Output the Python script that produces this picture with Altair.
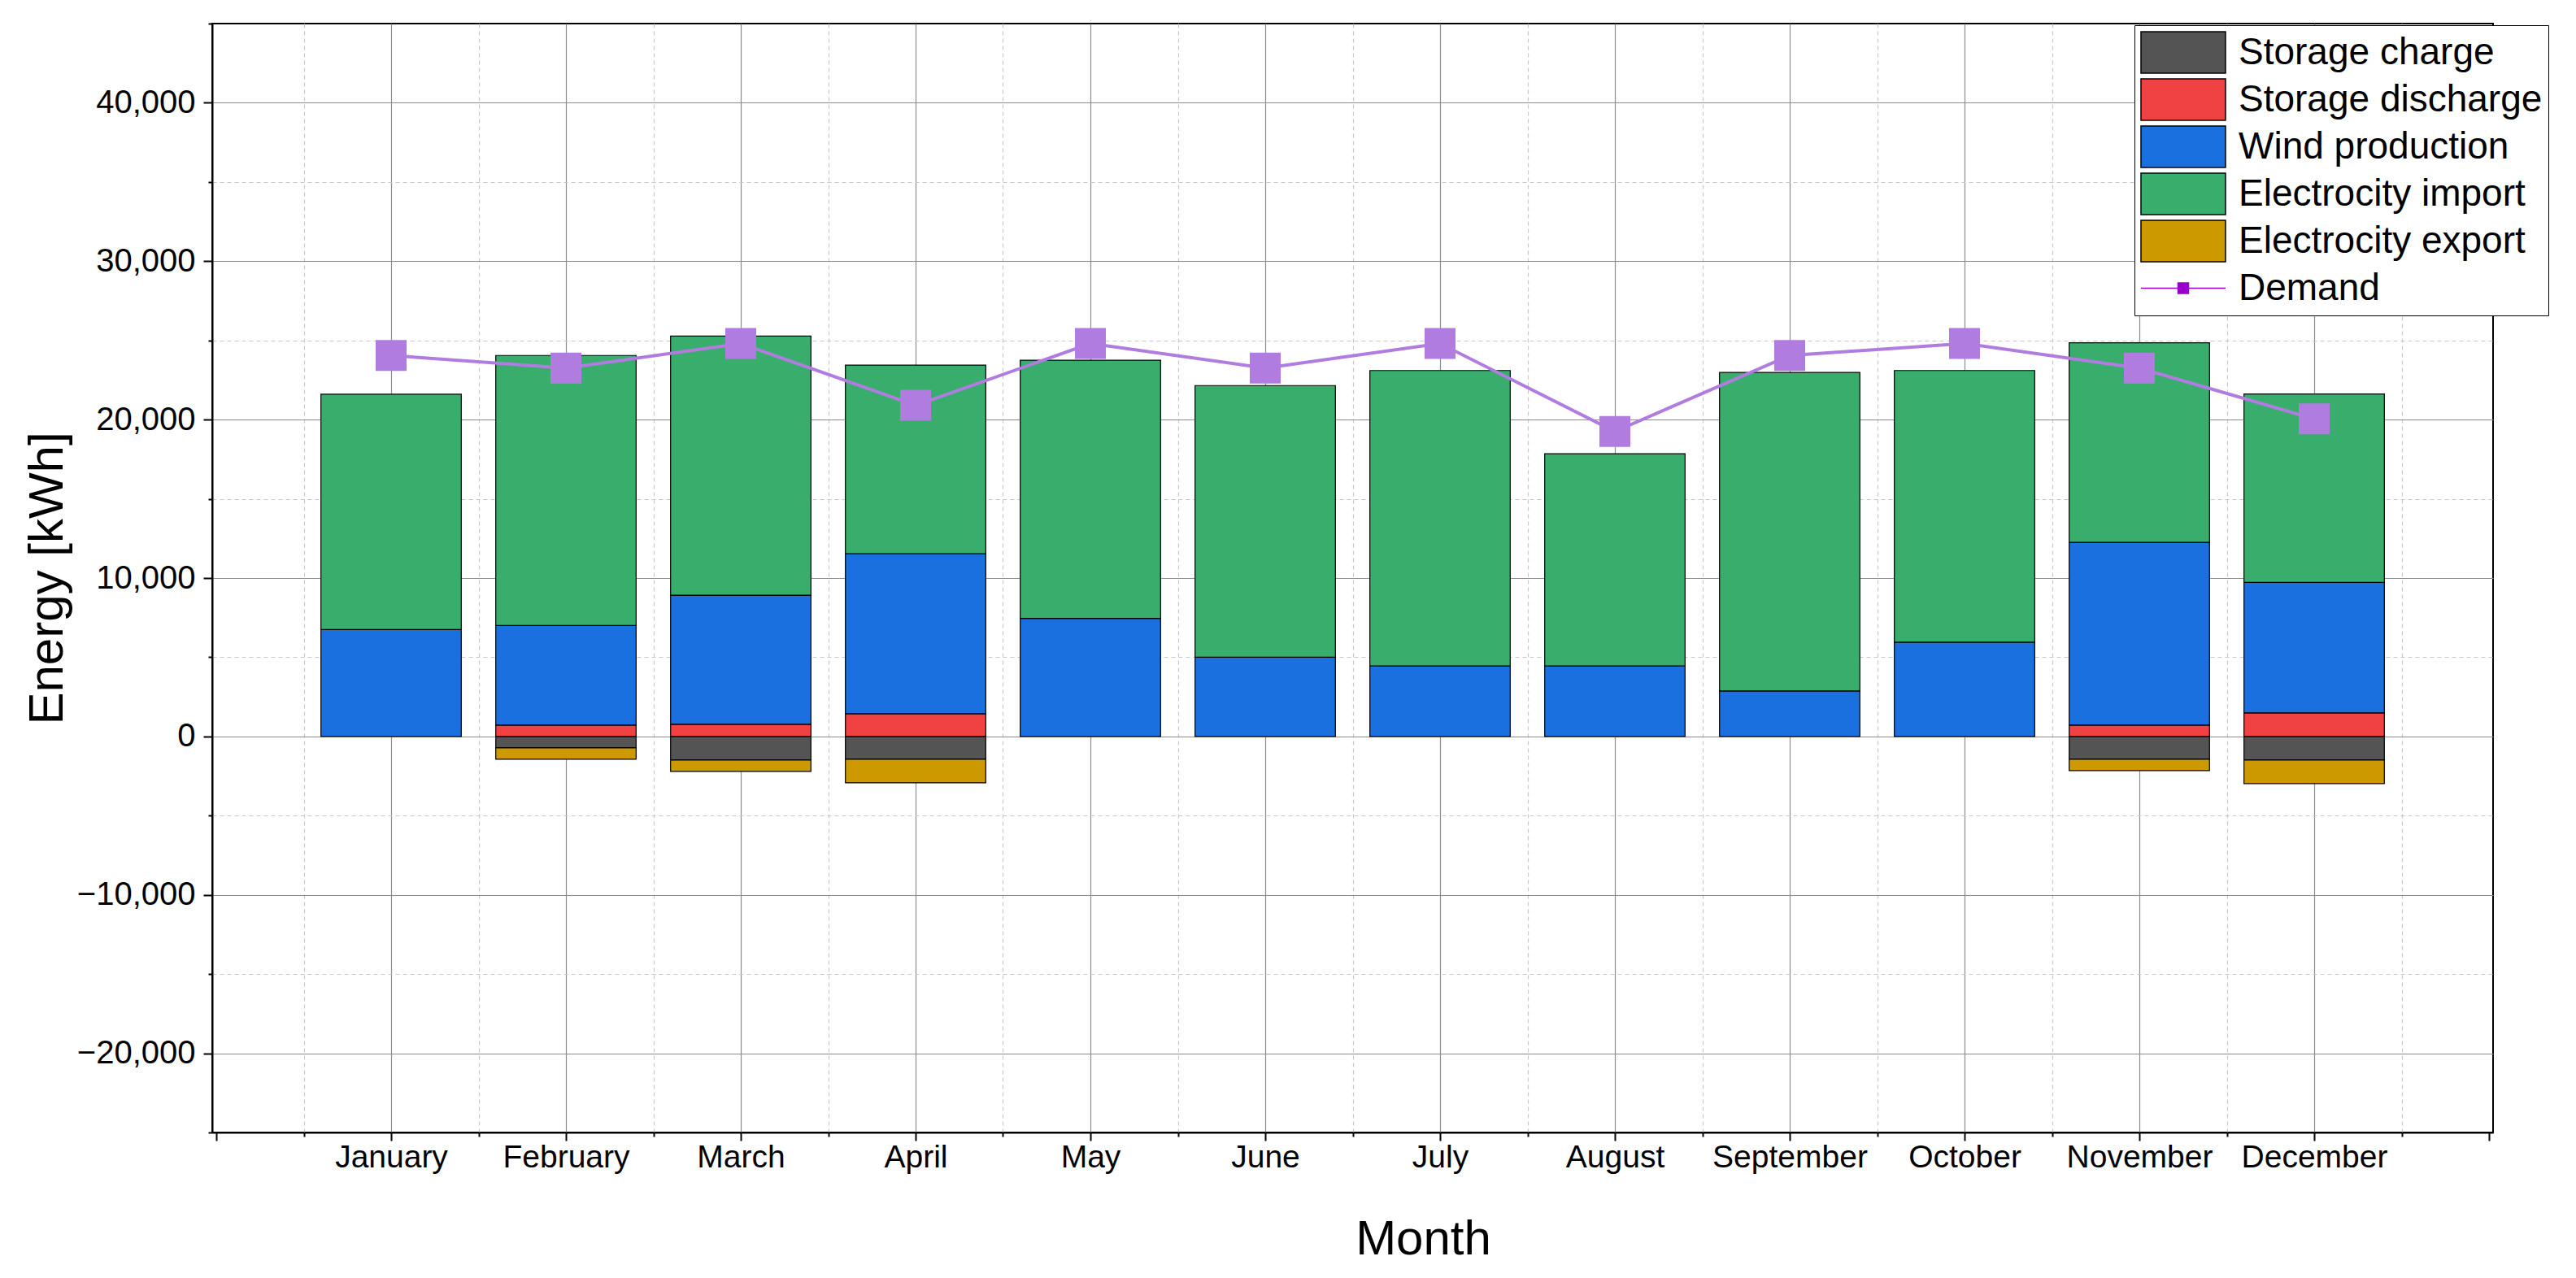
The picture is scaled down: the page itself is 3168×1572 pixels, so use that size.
import json
import altair as alt
import pandas as pd

FONT = "Liberation Sans"

months = ["January", "February", "March", "April", "May", "June", "July",
          "August", "September", "October", "November", "December"]
month_index = [1, 2, 3, 4, 5, 6, 7, 8, 9, 10, 11, 12]

storage_charge = [0, -720, -1490, -1440, 0, 0, 0, 0, 0, 0, -1440, -1490]
storage_discharge = [0, 720, 770, 1440, 0, 0, 0, 0, 0, 0, 720, 1490]
wind_production = [6750, 6280, 8150, 10100, 7450, 5000, 4450, 4450, 2875, 5950, 11530, 8230]
electricity_import = [14850, 17050, 16350, 11900, 16300, 17150, 18650, 13400, 20100, 17150, 12600, 11900]
electricity_export = [0, -720, -720, -1490, 0, 0, 0, 0, 0, 0, -720, -1490]
demand = [24050, 23250, 24800, 20900, 24800, 23250, 24800, 19250, 24050, 24800, 23250, 20050]

series_names = ["Storage charge", "Storage discharge", "Wind production",
                "Electrocity import", "Electrocity export"]
series_values = [storage_charge, storage_discharge, wind_production,
                 electricity_import, electricity_export]
legend_names = series_names + ["Demand"]
legend_colors = ["#545454", "#f04242", "#1a70de", "#38ad6c", "#cc9900", "#9900cc"]
demand_color = "#b07ce0"

RECT = "M-1,-0.49H1V0.49H-1Z"
DEMAND_SYM = "M-1,0H-0.125M0.125,0H1M-0.125,-0.125H0.125V0.125H-0.125Z"
legend_shapes = [RECT] * 5 + [DEMAND_SYM]
legend_strokes = ["black"] * 5 + ["#9900cc"]

rows = []
for i, m in enumerate(months):
    for k, (name, vals) in enumerate(zip(series_names, series_values)):
        rows.append({"month": m, "m": month_index[i], "series": name,
                     "value": vals[i], "order": k, "fill": legend_colors[k]})
bars_df = pd.DataFrame(rows)
demand_df = pd.DataFrame({"month": months, "m": month_index, "demand": demand,
                          "series": ["Demand"] * 12})

minor_x = "datum.value % 1 !== 0"
edge_x = "datum.value === 0 || datum.value === 13"
x_axis = alt.Axis(
    values=[i / 2 for i in range(27)],
    labelExpr=("(datum.value % 1 === 0 && datum.value >= 1 && datum.value <= 12) ? "
               + json.dumps(months) + "[datum.value - 1] : ''"),
    title="Month", titleFont=FONT, titleFontSize=60, titleFontWeight="normal",
    titleColor="black", titleX=1489, titleY=149, titleAlign="center",
    titleBaseline="alphabetic",
    grid=True,
    gridColor={"condition": {"test": minor_x, "value": "#c8c8c8"}, "value": "#8c8c8c"},
    gridDash={"condition": {"test": minor_x, "value": [5, 4]}, "value": []},
    gridOpacity={"condition": {"test": edge_x, "value": 0}, "value": 1},
    gridWidth=1.2,
    tickSize={"condition": {"test": minor_x, "value": 5}, "value": 10},
    tickColor="black", tickWidth=2,
    domainColor="black", domainWidth=2,
    labelFont=FONT, labelFontSize=39, labelColor="black", labelPadding=1,
    labelOverlap=False, labelFlush=False, labelLimit=1000,
)

minor_y = "datum.value % 10000 !== 0"
edge_y = "datum.value === 45000 || datum.value === -25000"
y_axis = alt.Axis(
    values=list(range(-25000, 45001, 5000)),
    labelExpr="datum.value % 10000 === 0 ? format(datum.value, ',') : ''",
    title="Energy [kWh]", titleFont=FONT, titleFontSize=60, titleFontWeight="normal",
    titleColor="black", titleX=-185, titleY=682, titleAngle=270, titleAlign="center",
    titleBaseline="alphabetic",
    grid=True,
    gridColor={"condition": {"test": minor_y, "value": "#c8c8c8"}, "value": "#8c8c8c"},
    gridDash={"condition": {"test": minor_y, "value": [5, 4]}, "value": []},
    gridOpacity={"condition": {"test": edge_y, "value": 0}, "value": 1},
    gridWidth=1.2,
    tickSize={"condition": {"test": minor_y, "value": 5}, "value": 11},
    tickColor="black", tickWidth=2,
    domainColor="black", domainWidth=2,
    labelFont=FONT, labelFontSize=40, labelColor="black", labelPadding=10,
    labelOverlap=False, labelFlush=False, labelLimit=1000,
)

x_scale = alt.Scale(domain=[0, 13], nice=False, zero=False)
y_scale = alt.Scale(domain=[-25000, 45000], nice=False)

legend = alt.Legend(
    title=None, orient="none", legendX=2364, legendY=2,
    labelFont=FONT, labelFontSize=46, labelColor="black", labelOffset=15,
    labelLimit=1000,
    symbolType=RECT, symbolSize=10816, symbolStrokeWidth=1.5, symbolOpacity=1,
    symbolFillColor="white", symbolStrokeColor="black",
    clipHeight=53, rowPadding=5, padding=7,
    strokeColor="black", fillColor="white",
)

x_enc = alt.X("m:Q", scale=x_scale, axis=x_axis)

bars = alt.Chart(bars_df).transform_filter("datum.value != 0").mark_bar(
    size=172.6, stroke="black", strokeWidth=1.2
).encode(
    x=x_enc,
    y=alt.Y("value:Q", stack="zero", scale=y_scale, axis=y_axis),
    color=alt.Color("fill:N", scale=None),
    order=alt.Order("order:Q"),
)

line = alt.Chart(demand_df).mark_line(color=demand_color, strokeWidth=4).encode(
    x=x_enc, y=alt.Y("demand:Q", scale=y_scale, axis=y_axis)
)
points = alt.Chart(demand_df).mark_point(
    shape="square", filled=True, size=1444, color=demand_color, opacity=1
).encode(x=x_enc, y=alt.Y("demand:Q", scale=y_scale, axis=y_axis))

# legend-only layer: no rows survive the filter, the legend comes from the scales
legend_layer = alt.Chart(demand_df).transform_filter("false").mark_point(
    filled=True, opacity=1
).encode(
    x=x_enc, y=alt.Y("demand:Q", scale=y_scale, axis=y_axis),
    color=alt.Color("series:N", scale=alt.Scale(domain=legend_names, range=legend_colors),
                    legend=legend),
    shape=alt.Shape("series:N", scale=alt.Scale(domain=legend_names, range=legend_shapes),
                    legend=legend),
    stroke=alt.Stroke("series:N", scale=alt.Scale(domain=legend_names, range=legend_strokes),
                      legend=legend),
)

chart = alt.layer(bars, line, points, legend_layer).properties(
    width=2805, height=1364,
    autosize=alt.AutoSizeParams(type="none"),
    padding={"left": 253, "top": 21, "right": 80, "bottom": 170},
).configure_view(stroke="black", strokeWidth=2)

chart.save("out.html", embed_options={"renderer": "svg", "actions": False})
